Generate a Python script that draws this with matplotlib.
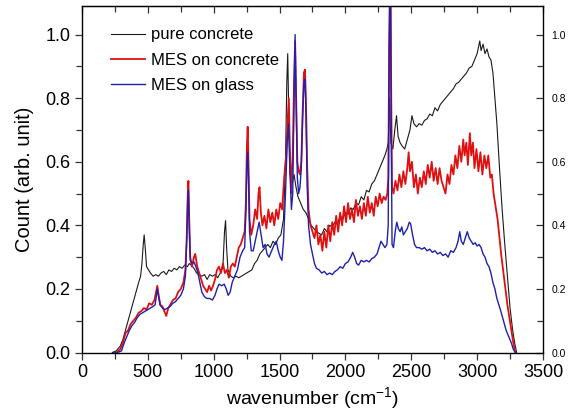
import matplotlib
matplotlib.use("Agg")
import matplotlib.pyplot as plt
from matplotlib.ticker import MultipleLocator

plt.rcParams['font.family'] = ['Liberation Sans', 'DejaVu Sans']

# pure concrete
pc_x = [230, 260, 290, 310, 330, 350, 370, 390, 410, 430, 445, 455, 465, 472, 480, 490, 505, 520, 540, 560,
        580, 600, 620, 640, 660, 680, 700, 720, 740, 760, 780, 800, 815, 830, 850, 870, 890, 910, 930, 950,
        970, 990, 1010, 1030, 1050, 1070, 1082, 1090, 1098, 1108, 1130, 1150, 1170, 1190, 1210, 1230, 1250, 1270, 1290, 1310,
        1330, 1350, 1370, 1390, 1410, 1430, 1450, 1470, 1490, 1510, 1530, 1545, 1555, 1562, 1570, 1580, 1595, 1610, 1625, 1640,
        1660, 1680, 1700, 1720, 1740, 1760, 1780, 1800, 1820, 1840, 1860, 1880, 1900, 1920, 1940, 1960, 1980, 2000, 2020, 2040,
        2060, 2080, 2100, 2120, 2140, 2160, 2180, 2200, 2220, 2240, 2260, 2280, 2300, 2315, 2325, 2335, 2345, 2360, 2375, 2388,
        2400, 2415, 2430, 2450, 2470, 2490, 2505, 2520, 2540, 2560, 2580, 2600, 2620, 2640, 2660, 2680, 2700, 2720, 2740, 2760,
        2780, 2800, 2820, 2840, 2860, 2880, 2900, 2920, 2940, 2960, 2980, 3000, 3010, 3020, 3030, 3045, 3060, 3075, 3090, 3105,
        3120, 3135, 3150, 3170, 3190, 3210, 3230, 3250, 3270, 3285, 3300]
pc_y = [0.0, 0.005, 0.02, 0.04, 0.07, 0.10, 0.13, 0.16, 0.19, 0.22, 0.24, 0.28, 0.34, 0.37, 0.33, 0.27, 0.26, 0.25, 0.24, 0.245,
        0.24, 0.25, 0.255, 0.245, 0.26, 0.255, 0.265, 0.26, 0.27, 0.265, 0.275, 0.27, 0.28, 0.275, 0.265, 0.25, 0.245, 0.24, 0.245, 0.23,
        0.245, 0.24, 0.245, 0.235, 0.25, 0.27, 0.38, 0.415, 0.33, 0.26, 0.24, 0.235, 0.24, 0.235, 0.24, 0.245, 0.25, 0.255, 0.26, 0.28,
        0.29, 0.31, 0.32, 0.33, 0.34, 0.33, 0.35, 0.34, 0.36, 0.37, 0.42, 0.6, 0.85, 0.94, 0.75, 0.56, 0.53, 0.56, 0.52, 0.49,
        0.47, 0.45, 0.44, 0.42, 0.40, 0.39, 0.38, 0.375, 0.37, 0.39, 0.38, 0.40, 0.395, 0.41, 0.405, 0.43, 0.42, 0.44, 0.435, 0.455,
        0.45, 0.47, 0.465, 0.49, 0.48, 0.51, 0.505, 0.53, 0.54, 0.56, 0.58, 0.60, 0.62, 0.64, 0.66, 0.80, 0.66, 0.64, 0.70, 0.745,
        0.68, 0.66, 0.65, 0.64, 0.67, 0.70, 0.745, 0.72, 0.71, 0.72, 0.715, 0.73, 0.735, 0.75, 0.745, 0.77, 0.76, 0.78, 0.79, 0.80,
        0.81, 0.82, 0.83, 0.845, 0.85, 0.86, 0.87, 0.88, 0.895, 0.90, 0.92, 0.94, 0.96, 0.98, 0.95, 0.97, 0.94, 0.955, 0.93, 0.92,
        0.88, 0.80, 0.72, 0.58, 0.45, 0.34, 0.24, 0.14, 0.07, 0.03, 0.0]

# MES on concrete
mc_x = [260, 290, 310, 330, 350, 370, 390, 410, 430, 450, 470, 490, 510, 530, 550, 562, 572, 582, 595, 610,
        625, 640, 655, 670, 690, 710, 730, 750, 770, 785, 795, 803, 808, 814, 822, 835, 850, 860, 875, 890,
        905, 920, 935, 950, 965, 980, 995, 1010, 1025, 1040, 1055, 1070, 1085, 1100, 1115, 1130, 1145, 1160, 1175, 1190,
        1205, 1220, 1235, 1245, 1252, 1258, 1264, 1272, 1285, 1300, 1315, 1330, 1340, 1348, 1358, 1370, 1385, 1400, 1415, 1430,
        1445, 1460, 1475, 1490, 1505, 1520, 1535, 1550, 1560, 1570, 1578, 1588, 1600, 1610, 1618, 1626, 1635, 1645, 1655, 1665,
        1675, 1685, 1693, 1700, 1710, 1720, 1735, 1750, 1765, 1780, 1795, 1810, 1825, 1840, 1855, 1870, 1885, 1900, 1915, 1930,
        1945, 1960, 1975, 1990, 2005, 2020, 2035, 2050, 2065, 2080, 2095, 2110, 2125, 2140, 2155, 2170, 2185, 2200, 2215, 2230,
        2245, 2260, 2275, 2290, 2305, 2318, 2326, 2332, 2337, 2343, 2348, 2354, 2365, 2380, 2395, 2410, 2425, 2440, 2455, 2470,
        2480, 2490, 2505, 2520, 2535, 2550, 2565, 2580, 2595, 2610, 2625, 2640, 2655, 2670, 2685, 2700, 2715, 2730, 2745, 2760,
        2775, 2790, 2805, 2820, 2835, 2850, 2865, 2880, 2895, 2905, 2918, 2930, 2945, 2955, 2968, 2980, 2995, 3010, 3025, 3040,
        3055, 3070, 3085, 3100, 3112, 3125, 3140, 3155, 3170, 3185, 3200, 3215, 3230, 3245, 3260, 3275, 3290]
mc_y = [0.0, 0.01, 0.03, 0.06, 0.07, 0.09, 0.10, 0.11, 0.125, 0.13, 0.14, 0.135, 0.155, 0.15, 0.165, 0.19, 0.21, 0.18, 0.15, 0.145,
        0.13, 0.115, 0.14, 0.15, 0.165, 0.17, 0.19, 0.20, 0.22, 0.26, 0.36, 0.50, 0.54, 0.42, 0.30, 0.27, 0.30, 0.31, 0.27, 0.25,
        0.23, 0.21, 0.20, 0.19, 0.21, 0.195, 0.21, 0.23, 0.26, 0.27, 0.25, 0.28, 0.25, 0.26, 0.235, 0.27, 0.28, 0.27, 0.30, 0.33,
        0.34, 0.36, 0.38, 0.48, 0.65, 0.71, 0.60, 0.42, 0.37, 0.40, 0.45, 0.42, 0.50, 0.52, 0.44, 0.40, 0.43, 0.39, 0.45, 0.41,
        0.44, 0.40, 0.45, 0.42, 0.47, 0.45, 0.55, 0.62, 0.72, 0.80, 0.65, 0.50, 0.62, 0.85, 0.98, 0.80, 0.60, 0.57, 0.56, 0.60,
        0.75, 0.88, 0.89, 0.80, 0.58, 0.45, 0.40, 0.38, 0.36, 0.40, 0.34, 0.37, 0.32, 0.38, 0.33, 0.40, 0.35, 0.41, 0.37, 0.43,
        0.38, 0.44, 0.40, 0.46, 0.41, 0.47, 0.42, 0.45, 0.41, 0.48, 0.43, 0.46, 0.42, 0.47, 0.43, 0.49, 0.44, 0.47, 0.43, 0.49,
        0.46, 0.50, 0.47, 0.49, 0.48, 0.50, 0.55, 0.95, 1.12, 1.12, 0.80, 0.52, 0.50, 0.54, 0.51, 0.56, 0.52, 0.57, 0.53, 0.58,
        0.63, 0.57, 0.60, 0.52, 0.56, 0.50, 0.55, 0.52, 0.57, 0.53, 0.59, 0.55, 0.60, 0.54, 0.58, 0.53, 0.58, 0.54, 0.52, 0.50,
        0.56, 0.53, 0.59, 0.56, 0.62, 0.58, 0.65, 0.60, 0.67, 0.62, 0.66, 0.59, 0.69, 0.62, 0.66, 0.58, 0.64, 0.57, 0.63, 0.56,
        0.62, 0.58, 0.62, 0.55, 0.56, 0.50, 0.46, 0.42, 0.36, 0.30, 0.25, 0.20, 0.15, 0.11, 0.07, 0.03, 0.0]

# MES on glass
mg_x = [240, 270, 300, 320, 340, 360, 380, 400, 420, 440, 460, 480, 500, 520, 540, 555, 565, 572, 580, 592,
        610, 630, 650, 670, 690, 710, 730, 750, 770, 785, 795, 803, 808, 814, 822, 835, 850, 865, 880, 895,
        910, 930, 950, 970, 990, 1010, 1025, 1040, 1060, 1080, 1095, 1110, 1125, 1140, 1160, 1180, 1200, 1220, 1235, 1245,
        1252, 1258, 1264, 1272, 1285, 1300, 1315, 1330, 1345, 1360, 1375, 1390, 1405, 1420, 1440, 1460, 1475, 1490, 1505, 1518,
        1530, 1545, 1558, 1568, 1578, 1590, 1600, 1610, 1618, 1626, 1635, 1645, 1655, 1665, 1675, 1685, 1693, 1700, 1710, 1720,
        1735, 1750, 1765, 1780, 1800, 1820, 1840, 1860, 1880, 1900, 1920, 1940, 1960, 1980, 2000, 2020, 2040, 2055, 2070, 2085,
        2100, 2120, 2140, 2160, 2180, 2200, 2220, 2240, 2255, 2270, 2285, 2300, 2315, 2325, 2332, 2337, 2343, 2348, 2354, 2365,
        2378, 2390, 2402, 2415, 2428, 2440, 2455, 2470, 2485, 2495, 2510, 2525, 2540, 2560, 2580, 2600, 2620, 2640, 2660, 2680,
        2700, 2720, 2740, 2760, 2780, 2800, 2820, 2840, 2855, 2868, 2880, 2895, 2910, 2925, 2940, 2955, 2970, 2985, 3000, 3015,
        3030, 3045, 3060, 3075, 3090, 3105, 3120, 3135, 3150, 3165, 3180, 3200, 3220, 3240, 3260, 3275, 3290]
mg_y = [0.0, 0.0, 0.005, 0.03, 0.05, 0.07, 0.085, 0.095, 0.11, 0.12, 0.125, 0.13, 0.135, 0.14, 0.145, 0.15, 0.18, 0.20, 0.18, 0.15,
        0.14, 0.135, 0.14, 0.145, 0.155, 0.16, 0.17, 0.18, 0.20, 0.24, 0.35, 0.48, 0.51, 0.40, 0.29, 0.28, 0.285, 0.27, 0.25, 0.22,
        0.19, 0.175, 0.17, 0.17, 0.165, 0.18, 0.20, 0.215, 0.21, 0.215, 0.20, 0.18, 0.19, 0.22, 0.24, 0.26, 0.30, 0.32, 0.33, 0.45,
        0.60, 0.63, 0.55, 0.38, 0.32, 0.32, 0.35, 0.38, 0.41, 0.37, 0.33, 0.34, 0.31, 0.30, 0.32, 0.34, 0.35, 0.32, 0.30, 0.29,
        0.35, 0.50, 0.66, 0.72, 0.58, 0.45, 0.50, 0.80, 1.0, 0.78, 0.55, 0.50, 0.52, 0.58, 0.74, 0.85, 0.86, 0.76, 0.52, 0.40,
        0.34, 0.31, 0.28, 0.265, 0.26, 0.25, 0.255, 0.245, 0.25, 0.245, 0.255, 0.26, 0.27, 0.265, 0.28, 0.285, 0.30, 0.315, 0.30, 0.28,
        0.275, 0.29, 0.285, 0.29, 0.285, 0.295, 0.30, 0.31, 0.33, 0.35, 0.34, 0.33, 0.34, 0.40, 0.95, 1.12, 1.12, 0.70, 0.34, 0.33,
        0.38, 0.41, 0.39, 0.38, 0.395, 0.37, 0.38, 0.39, 0.41, 0.405, 0.37, 0.34, 0.33, 0.33, 0.325, 0.33, 0.32, 0.325, 0.315, 0.32,
        0.31, 0.315, 0.305, 0.31, 0.30, 0.32, 0.315, 0.33, 0.35, 0.38, 0.35, 0.34, 0.36, 0.38, 0.36, 0.35, 0.34, 0.345, 0.335, 0.34,
        0.33, 0.31, 0.30, 0.28, 0.27, 0.25, 0.22, 0.20, 0.17, 0.15, 0.13, 0.10, 0.07, 0.05, 0.03, 0.01, 0.0]

labels = ["pure concrete", "MES on concrete", "MES on glass"]
y_ticks = [0.0, 0.2, 0.4, 0.6, 0.8, 1.0]
x_ticks = [0, 500, 1000, 1500, 2000, 2500, 3000, 3500]

fig = plt.figure(figsize=(5.73, 4.2), dpi=100)
ax = fig.add_axes([0.1431, 0.1607, 0.8045, 0.825])

ax.plot(pc_x, pc_y, color='#1a1a1a', lw=0.8, label=labels[0])
ax.plot(mc_x, mc_y, color='#e01010', lw=1.3, label=labels[1])
ax.plot(mg_x, mg_y, color='#2020b0', lw=1.0, label=labels[2])

ax.set_xlim(0, 3500)
ax.set_ylim(0, 1.09)
ax.set_xticks(x_ticks)
ax.set_yticks(y_ticks)
ax.set_yticklabels([f"{v:.1f}" for v in y_ticks])
ax.xaxis.set_minor_locator(MultipleLocator(250))
ax.yaxis.set_minor_locator(MultipleLocator(0.1))
ax.tick_params(which='both', direction='out', labelsize=13, color='#333333', width=0.9)
ax.tick_params(which='major', length=5)
ax.tick_params(which='minor', length=4)
for s in ax.spines.values():
    s.set_color('#444444')
    s.set_linewidth(1.0)

ax.set_xlabel("wavenumber (cm$^{\\mathregular{-1}}$)", fontsize=14, labelpad=3)
ax.set_ylabel("Count (arb. unit)", fontsize=14.5, labelpad=8)

# right mirrored axis
axr = ax.twinx()
axr.set_ylim(ax.get_ylim())
axr.set_yticks(y_ticks)
axr.set_yticklabels([f"{v:.1f}" for v in y_ticks])
axr.yaxis.set_minor_locator(MultipleLocator(0.1))
axr.tick_params(which='both', direction='in', labelsize=7.5, color='#333333', width=0.9, pad=6)
axr.tick_params(which='major', length=5)
axr.tick_params(which='minor', length=4)

# top ticks
axt = ax.secondary_xaxis('top')
axt.set_xticks(x_ticks)
axt.xaxis.set_minor_locator(MultipleLocator(250))
axt.tick_params(which='both', direction='in', labeltop=False, color='#333333', width=0.9)
axt.tick_params(which='major', length=5)
axt.tick_params(which='minor', length=4)

ax.legend(loc='upper left', bbox_to_anchor=(0.064, 0.938), frameon=False, fontsize=12,
          borderpad=0, borderaxespad=0, handlelength=2.0, handletextpad=0.4, labelspacing=0.62)

fig.savefig("out.png", dpi=100)
